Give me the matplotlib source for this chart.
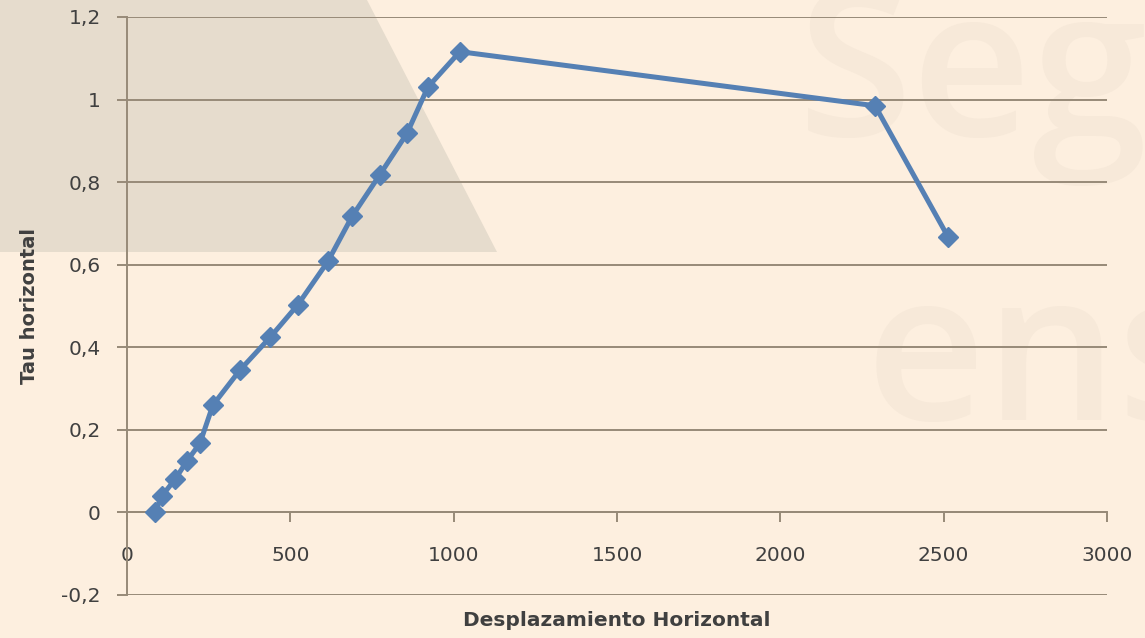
import matplotlib.pyplot as plt
from matplotlib.patches import Polygon
from matplotlib.ticker import FuncFormatter

desplazamiento = [85, 107, 147, 184, 223, 263, 346, 438, 523, 615,
                  689, 774, 857, 921, 1019, 2290, 2513]
tau = [0.0, 0.04, 0.08, 0.125, 0.167, 0.26, 0.345, 0.424, 0.503, 0.608,
       0.717, 0.818, 0.918, 1.03, 1.116, 0.985, 0.668]

x_ticks = [0, 500, 1000, 1500, 2000, 2500, 3000]
y_ticks = [-0.2, 0, 0.2, 0.4, 0.6, 0.8, 1.0, 1.2]

bg = '#fdefdf'
grid_col = '#978a78'
text_col = '#404040'
line_col = '#5580b4'

plt.rcParams['font.family'] = ['DejaVu Sans']

W, H = 1145, 638
fig = plt.figure(figsize=(W / 100, H / 100), dpi=100, facecolor=bg)

# grey slanted panel in the upper left corner
tri = Polygon([(0, 1), (367 / W, 1), (497 / W, 1 - 252 / H), (0, 1 - 252 / H)],
              closed=True, transform=fig.transFigure, facecolor='#e6dccd',
              edgecolor='none', zorder=0)
fig.patches.append(tri)

# faint watermark letters
fig.text(798 / W, 1 + 22 / H, 'Seg', fontsize=150, color='#f7e9d9',
         family='Open Sans', fontweight='semibold', va='top', ha='left',
         zorder=0)
fig.text(866 / W, 1 - 262 / H, 'ens', fontsize=150, color='#f7e9d9',
         family='Open Sans', fontweight='semibold', va='top', ha='left',
         zorder=0)

ax = fig.add_axes([127 / W, 1 - 595 / H, (1107 - 127) / W, (595 - 17) / H])
ax.set_facecolor('none')
ax.set_zorder(2)

ax.set_xlim(0, 3000)
ax.set_ylim(-0.2, 1.2)
ax.set_xticks(x_ticks)
ax.set_yticks(y_ticks)

ax.yaxis.grid(True, color=grid_col, linewidth=1.4)
ax.set_axisbelow(True)

for s in ['top', 'right']:
    ax.spines[s].set_visible(False)
ax.spines['left'].set_color(grid_col)
ax.spines['left'].set_linewidth(1.4)
ax.spines['bottom'].set_position(('data', 0))
ax.spines['bottom'].set_color(grid_col)
ax.spines['bottom'].set_linewidth(1.4)

comma = FuncFormatter(lambda v, p: ('%g' % v).replace('.', ','))
ax.yaxis.set_major_formatter(comma)

ax.tick_params(axis='x', direction='out', length=7, width=1.4, color=grid_col,
               labelsize=14.5, labelcolor=text_col, pad=17)
ax.tick_params(axis='y', direction='out', length=7, width=1.4, color=grid_col,
               labelsize=14.5, labelcolor=text_col, pad=12)

ax.plot(desplazamiento, tau, color=line_col, linewidth=3.6, marker='D',
        markersize=10, markeredgecolor=line_col, zorder=3)

fig.text(617 / W, 1 - 620 / H, 'Desplazamiento Horizontal', fontsize=14.5,
         fontweight='bold', color=text_col, ha='center', va='center')
fig.text(30 / W, 1 - 306 / H, 'Tau horizontal', fontsize=14,
         fontweight='bold', color=text_col, ha='center', va='center',
         rotation=90)

fig.savefig('out.png', dpi=100, facecolor=bg)
